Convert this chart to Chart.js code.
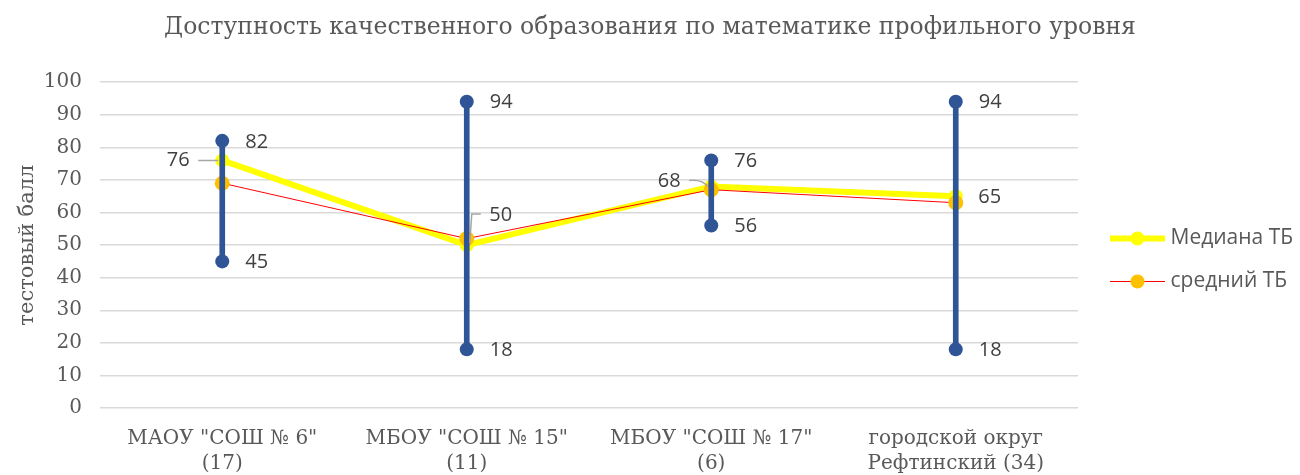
<!DOCTYPE html>
<html>
<head>
<meta charset="utf-8">
<script src="https://cdn.jsdelivr.net/npm/chart.js@4.4.1/dist/chart.umd.min.js"></script>
<style>
  html, body { margin: 0; padding: 0; background: #fff; }
</style>
</head>
<body>
<canvas id="chart" width="1300" height="475"></canvas>
<script>
const categories = [
  ['МАОУ "СОШ № 6"', '(17)'],
  ['МБОУ "СОШ № 15"', '(11)'],
  ['МБОУ "СОШ № 17"', '(6)'],
  ['городской округ', 'Рефтинский (34)']
];
const medianTB = [76, 50, 68, 65];
const meanTB = [69, 52, 67, 63];
const minTB = [45, 18, 56, 18];
const maxTB = [82, 94, 76, 94];
const yMin = 0, yMax = 100, yStep = 10;

const serif = "'DejaVu Serif', 'Liberation Serif', serif";
const sans = "'Open Sans', 'Noto Sans', sans-serif";
const grey = '#595959';
const blue = '#2f5597';

// legend icons: line with a marker in the middle
function legendIcon(lineColor, lineWidth, dotColor) {
  const c = document.createElement('canvas');
  c.width = 70; c.height = 21;
  const g = c.getContext('2d');
  g.strokeStyle = lineColor;
  g.lineWidth = lineWidth;
  g.beginPath(); g.moveTo(15, 10.5); g.lineTo(70, 10.5); g.stroke();
  g.fillStyle = dotColor;
  g.beginPath(); g.arc(42.5, 10.5, 7, 0, Math.PI * 2); g.fill();
  return c;
}
const medianIcon = legendIcon('#ffff00', 6, '#ffff00');
const meanIcon = legendIcon('#ff0000', 1, '#ffc000');

// label offsets for the median points (dx, dy from the point)
const medianLabelOffset = [[-44, 0], [34, -30], [-42, -5], [34, 1]];

const labelsPlugin = {
  id: 'labelsPlugin',
  afterDatasetsDraw(chart) {
    const ctx = chart.ctx;
    ctx.save();
    ctx.font = '20px ' + sans;
    ctx.fillStyle = '#404040';
    ctx.textBaseline = 'middle';

    // leader lines
    const med = chart.getDatasetMeta(0).data;
    ctx.strokeStyle = '#a6a6a6';
    ctx.lineWidth = 1.5;
    ctx.beginPath();
    ctx.moveTo(med[0].x - 24, med[0].y); ctx.lineTo(med[0].x - 4, med[0].y);
    ctx.moveTo(med[1].x + 3, med[1].y - 2); ctx.lineTo(med[1].x + 5, med[1].y - 31); ctx.lineTo(med[1].x + 14, med[1].y - 31);
    ctx.moveTo(med[2].x - 22, med[2].y - 6); ctx.quadraticCurveTo(med[2].x - 8, med[2].y - 7, med[2].x - 4, med[2].y);
    ctx.stroke();

    ctx.textAlign = 'center';
    med.forEach((p, i) => {
      const [dx, dy] = medianLabelOffset[i];
      ctx.fillText(String(medianTB[i]), p.x + dx, p.y + dy);
    });

    ctx.textAlign = 'left';
    [[3, maxTB], [4, minTB]].forEach(([idx, vals]) => {
      chart.getDatasetMeta(idx).data.forEach((p, i) => {
        ctx.fillText(String(vals[i]), p.x + 23, p.y + 1);
      });
    });
    ctx.restore();
  }
};

const legendTweak = {
  id: 'legendTweak',
  afterInit(chart) {
    const l = chart.legend;
    const fit = l.fit;
    l.fit = function () { fit.call(this); this.width = 222; };
  },
  afterLayout(chart) {
    chart.legend.top += 45;
  }
};

new Chart(document.getElementById('chart'), {
  type: 'bar',
  data: {
    labels: categories,
    datasets: [
      {
        type: 'line', label: 'Медиана ТБ', data: medianTB,
        borderColor: '#ffff00', borderWidth: 6, backgroundColor: '#ffff00',
        pointBackgroundColor: '#ffff00', pointBorderWidth: 0, pointRadius: 7,
        tension: 0, order: 4
      },
      {
        type: 'line', label: 'средний ТБ', data: meanTB,
        borderColor: '#ff0000', borderWidth: 1, backgroundColor: '#ffc000',
        pointBackgroundColor: '#ffc000', pointBorderWidth: 0, pointRadius: 7.5,
        tension: 0, order: 3
      },
      {
        type: 'bar', label: 'диапазон', data: minTB.map((v, i) => [v, maxTB[i]]),
        backgroundColor: blue, barThickness: 5, order: 2
      },
      {
        type: 'line', label: 'max', data: maxTB, showLine: false,
        pointBackgroundColor: blue, pointBorderWidth: 0, pointRadius: 7, order: 1
      },
      {
        type: 'line', label: 'min', data: minTB, showLine: false,
        pointBackgroundColor: blue, pointBorderWidth: 0, pointRadius: 7, order: 1
      }
    ]
  },
  options: {
    responsive: false,
    animation: false,
    devicePixelRatio: 1,
    layout: { padding: 0 },
    plugins: {
      title: {
        display: true,
        text: 'Доступность качественного образования по математике профильного уровня',
        color: grey,
        font: { family: serif, size: 23.5, weight: 'normal' },
        padding: { top: 14, bottom: 40 }
      },
      legend: {
        position: 'right',
        align: 'center',
        labels: {
          usePointStyle: true,
          pointStyleWidth: 60,
          padding: 22,
          color: grey,
          font: { family: sans, size: 21 },
          generateLabels: () => [
            { text: 'Медиана ТБ', pointStyle: medianIcon, fontColor: grey, datasetIndex: 0, lineWidth: 0 },
            { text: 'средний ТБ', pointStyle: meanIcon, fontColor: grey, datasetIndex: 1, lineWidth: 0 }
          ]
        }
      },
      tooltip: { enabled: false }
    },
    scales: {
      x: {
        offset: true,
        grid: { display: false },
        border: { display: false },
        ticks: {
          color: grey,
          font: { family: serif, size: 20, lineHeight: 1.25 },
          padding: 10,
          maxRotation: 0
        },
        afterFit(scale) { scale.height = 67; }
      },
      y: {
        min: yMin, max: yMax,
        grid: { color: '#d9d9d9', lineWidth: 1.5, drawTicks: false },
        border: { display: false },
        ticks: {
          stepSize: yStep,
          color: grey,
          font: { family: serif, size: 20 },
          padding: 18
        },
        title: {
          display: true,
          text: 'тестовый балл',
          color: grey,
          font: { family: serif, size: 21 },
          padding: { top: 15, bottom: 4 }
        },
        afterFit(scale) { scale.width = 100; }
      }
    }
  },
  plugins: [labelsPlugin, legendTweak]
});
</script>
</body>
</html>
